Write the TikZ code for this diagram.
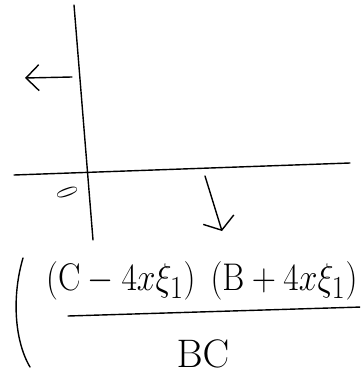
\documentclass[tikz,border=0pt]{standalone}
\usepackage{graphicx}
\usetikzlibrary{arrows.meta}
\begin{document}
\begin{tikzpicture}[x=1pt,y=-1pt,
  stroke/.style={line width=1.4pt,line cap=round},
  arr/.style={stroke,-{Straight Barb[length=13pt,width=26pt]}},
  hand/.style={font=\Huge,inner sep=0pt}
]
  \clip (0,0) rectangle (360,377);

  % Axes
  \coordinate (vtop) at (74,5);
  \coordinate (vbot) at (93,240);
  \coordinate (hleft) at (14,175);
  \coordinate (hright) at (350,163);
  \draw[stroke] (vtop) -- (vbot);
  \draw[stroke] (hleft) -- (hright);

  % Origin
  \node[hand,font=\huge,rotate=-70] (orig) at (68,193) {\scalebox{1.0}[1.5]{0}};

  % Arrows
  \coordinate (ltail) at (72,77);
  \coordinate (lhead) at (25,78);
  \draw[arr] (ltail) -- (lhead);
  \coordinate (dtail) at (205,176);
  \coordinate (dhead) at (222,231);
  \draw[arr,-{Straight Barb[length=11pt,width=32pt]}] (dtail) -- (dhead);

  % Expression
  \node[hand,anchor=west] (num) at (46,281)
    {\scalebox{1.35}[1.55]{$(\mathrm{C}-4x\xi_1)\hspace{0.45em}(\mathrm{B}+4x\xi_1)$}};
  \coordinate (barl) at (68,316);
  \coordinate (barr) at (362,307);
  \draw[stroke] (barl) -- (barr);
  \node[hand] (den) at (203,354) {\scalebox{1.6}{$\mathrm{BC}$}};

  % Big paren
  \coordinate (ptop) at (23,258);
  \coordinate (pbot) at (30,367);
  \draw[stroke] (ptop) .. controls (12,295) and (14,340) .. (pbot);
\end{tikzpicture}
\end{document}
